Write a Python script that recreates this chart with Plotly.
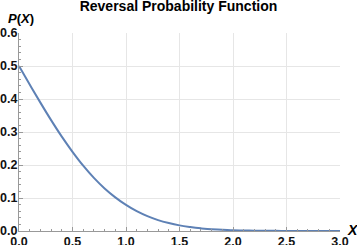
import plotly.graph_objects as go

x_vals = [0.0, 0.1, 0.2, 0.3, 0.4, 0.5, 0.6, 0.7, 0.8, 0.9, 1.0, 1.1, 1.2, 1.3, 1.4, 1.5,
          1.6, 1.7, 1.8, 1.9, 2.0, 2.1, 2.2, 2.3, 2.4, 2.5, 2.6, 2.7, 2.8, 2.9, 3.0]
p_vals = [0.500, 0.444, 0.389, 0.336, 0.286, 0.240, 0.198, 0.161, 0.129, 0.102, 0.079,
          0.060, 0.045, 0.033, 0.024, 0.017, 0.012, 0.008, 0.005, 0.004, 0.002, 0.0015,
          0.001, 0.0006, 0.0004, 0.0002, 0.0001, 0.0, 0.0, 0.0, 0.0]

x_ticks = [0.0, 0.5, 1.0, 1.5, 2.0, 2.5, 3.0]
y_ticks = [0.0, 0.1, 0.2, 0.3, 0.4, 0.5, 0.6]

font_family = "Liberation Sans, Arial, sans-serif"

fig = go.Figure()
fig.add_trace(go.Scatter(x=x_vals, y=p_vals, mode="lines",
                         line=dict(color="#5E81B5", width=2, shape="spline"),
                         hoverinfo="skip", showlegend=False, cliponaxis=False))

axis_common = dict(
    showgrid=True, gridcolor="#E6E6E6", gridwidth=1,
    showline=True, linecolor="#999999", linewidth=1,
    ticks="inside", ticklen=4, tickcolor="#999999",
    tickfont=dict(family=font_family, size=12.5, color="#111111", weight="bold"),
    zeroline=False, tickformat=".1f", automargin=False,
)

fig.update_xaxes(range=[0, 3.0], tickvals=x_ticks, ticklabelstandoff=-1,
                 minor=dict(ticks="inside", ticklen=2, tickcolor="#999999", dtick=0.1, showgrid=False),
                 **axis_common)
fig.update_yaxes(range=[0, 0.6], tickvals=y_ticks, ticklabelstandoff=-2,
                 minor=dict(ticks="inside", ticklen=2, tickcolor="#999999", dtick=0.02, showgrid=False),
                 **axis_common)

fig.update_layout(
    width=357, height=245,
    margin=dict(l=19, r=17, t=33, b=14, autoexpand=False),
    paper_bgcolor="white", plot_bgcolor="white",
    title=dict(text="<b>Reversal Probability Function</b>", x=0.5, xanchor="center",
               yref="container", y=1 - 6 / 245, yanchor="middle",
               font=dict(family=font_family, size=14, color="#000000")),
    annotations=[
        dict(text="<b><i>P</i>(<i>X</i>)</b>", xref="paper", yref="paper", x=-0.04, y=1.0,
             xanchor="left", yanchor="bottom", showarrow=False, yshift=5,
             font=dict(family=font_family, size=13, color="#000000")),
        dict(text="<b><i>X</i></b>", xref="paper", yref="paper", x=1.0, y=0.0,
             xanchor="left", yanchor="middle", showarrow=False, xshift=5, yshift=1,
             font=dict(family=font_family, size=14, color="#000000")),
    ],
)

fig.write_html("out.html", config={"displayModeBar": False},
               post_script="document.body.style.margin='0';document.body.style.overflow='hidden';")
